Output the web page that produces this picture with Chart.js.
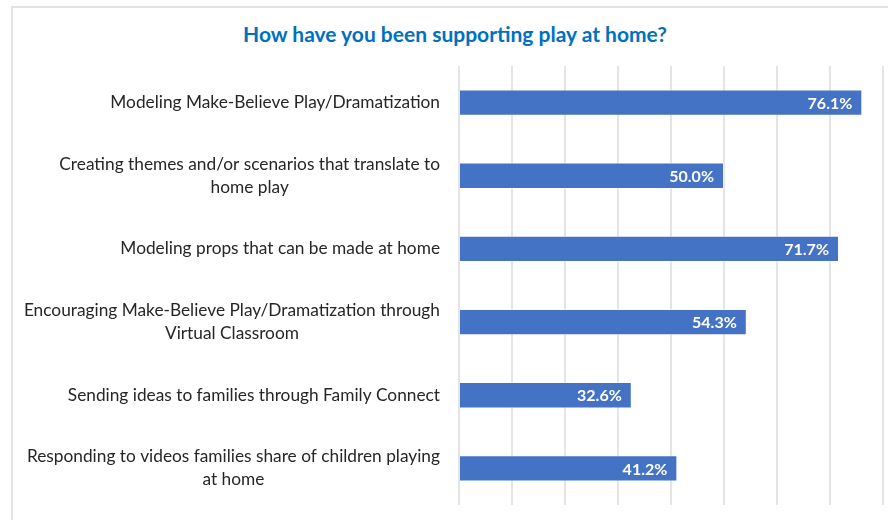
<!DOCTYPE html>
<html>
<head>
<meta charset="utf-8">
<script src="https://cdn.jsdelivr.net/npm/chart.js@4.4.1/dist/chart.umd.min.js"></script>
<style>
  html, body { margin: 0; padding: 0; background: #fff; }
  #wrap { position: relative; width: 888px; height: 520px; overflow: hidden; }
  #frame { position: absolute; left: 11px; top: 6px; width: 900px; height: 540px;
           border-left: 2px solid #e3e3e3; border-top: 2px solid #e3e3e3; }
  #title { position: absolute; left: 22px; top: 21px; width: 866px; text-align: center;
           font: bold 21px Lato, sans-serif; color: #0070c0; }
  canvas { position: absolute; left: 0; top: 0; }
</style>
</head>
<body>
<div id="wrap">
  <div id="frame"></div>
  <div id="title">How have you been supporting play at home?</div>
  <canvas id="chart" width="888" height="520"></canvas>
</div>
<script>
// categories (each entry is the lines of one label)
const categories = [
  ['Modeling Make-Believe Play/Dramatization'],
  ['Creating themes and/or scenarios that translate to', 'home play'],
  ['Modeling props that can be made at home'],
  ['Encouraging Make-Believe Play/Dramatization through', 'Virtual Classroom'],
  ['Sending ideas to families through Family Connect'],
  ['Responding to videos families share of children playing', 'at home']
];
const percentages = [76.1, 50.0, 71.7, 54.3, 32.6, 41.2];
const axisMax = 80;
const axisStep = 10;

const labelFont = '17.3px Lato, sans-serif';

// category labels: block right-aligned, lines centred inside the block
const categoryLabels = {
  id: 'categoryLabels',
  afterDraw(chart) {
    const ctx = chart.ctx;
    const y = chart.scales.y;
    ctx.save();
    ctx.font = labelFont;
    ctx.fillStyle = '#262626';
    ctx.textAlign = 'center';
    ctx.textBaseline = 'middle';
    const right = 440, lh = 23;
    categories.forEach((lines, i) => {
      const w = Math.max(...lines.map(l => ctx.measureText(l).width));
      const cx = right - w / 2;
      const cy = y.getPixelForTick(i);
      const y0 = cy - (lines.length - 1) * lh / 2;
      lines.forEach((l, j) => ctx.fillText(l, cx, y0 + j * lh));
    });
    ctx.restore();
  }
};

// value labels inside the bar ends
const valueLabels = {
  id: 'valueLabels',
  afterDatasetsDraw(chart) {
    const ctx = chart.ctx;
    const meta = chart.getDatasetMeta(0);
    ctx.save();
    ctx.font = 'bold 16px Lato, sans-serif';
    ctx.fillStyle = '#ffffff';
    ctx.textAlign = 'right';
    ctx.textBaseline = 'middle';
    meta.data.forEach((bar, i) => {
      ctx.fillText(percentages[i].toFixed(1) + '%', bar.x - 10, bar.y + 1);
    });
    ctx.restore();
  }
};

new Chart(document.getElementById('chart'), {
  type: 'bar',
  data: {
    labels: categories.map(c => c.join(' ')),
    datasets: [{
      data: percentages,
      backgroundColor: '#4472c4',
      borderColor: 'rgba(255,255,255,0.5)',
      borderWidth: 1,
      categoryPercentage: 1,
      barPercentage: 0.36
    }]
  },
  options: {
    indexAxis: 'y',
    responsive: false,
    animation: false,
    layout: { padding: { top: 66, bottom: 15, right: 5, left: 0 } },
    plugins: {
      legend: { display: false },
      tooltip: { enabled: false },
      title: { display: false }
    },
    scales: {
      x: {
        min: 0,
        max: axisMax,
        ticks: { display: false, stepSize: axisStep },
        grid: { color: '#e4e4e4', lineWidth: 2, drawTicks: false },
        border: { display: false }
      },
      y: {
        ticks: { display: false },
        grid: { display: false },
        border: { display: false },
        afterFit(scale) { scale.width = 459; }
      }
    }
  },
  plugins: [categoryLabels, valueLabels]
});
</script>
</body>
</html>
